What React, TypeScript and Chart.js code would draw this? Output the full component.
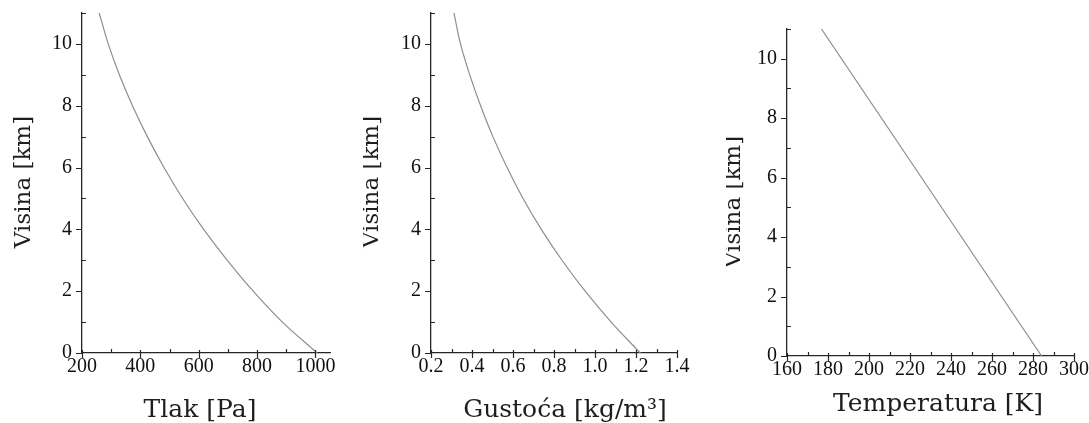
import React, { useEffect, useRef } from "react";
import { Chart, registerables } from "chart.js";

Chart.register(...registerables);

// ---- data ----
const heightsKm = [0, 1, 2, 3, 4, 5, 6, 7, 8, 9, 10, 11];
const pressurePa = [1006, 887, 787, 698, 617, 545, 481, 424, 373, 328, 290, 259];
const densityKgM3 = [1.221, 1.079, 0.952, 0.839, 0.738, 0.649, 0.571, 0.502, 0.442, 0.389, 0.344, 0.312];
const tempHeightsKm = [0, 11];
const temperatureK = [284.2, 176.8];

// ---- tick labels ----
const heightTicks = [0, 2, 4, 6, 8, 10];
const heightMinorTicks = [1, 3, 5, 7, 9, 11];
const pressureTicks = [200, 400, 600, 800, 1000];
const pressureMinorTicks = [300, 500, 700, 900];
const densityTicks = [0.2, 0.4, 0.6, 0.8, 1.0, 1.2, 1.4];
const densityMinorTicks = [0.3, 0.5, 0.7, 0.9, 1.1, 1.3];
const temperatureTicks = [160, 180, 200, 220, 240, 260, 280, 300];
const temperatureMinorTicks = [170, 190, 210, 230, 250, 270, 290];

const H = 423;
const AXIS_COLOR = "#262626";
const LINE_COLOR = "#8e8e8e";
const X_TITLE_FONT = "25px 'DejaVu Serif'";
const Y_TITLE_FONT = "23px 'DejaVu Serif'";
const TICK_FONT = { family: "'Liberation Serif'", size: 20 };

type Panel = {
  left: number;
  width: number;
  area: { left: number; right: number; top: number; bottom: number };
  xMin: number;
  xMax: number;
  xTicks: number[];
  xMinor: number[];
  decimals: number;
  xValues: number[];
  yValues: number[];
  xTitle: string;
  xTitlePos: [number, number];
  yTitle: string;
  yTitlePos: [number, number];
};

const panels: Panel[] = [
  {
    left: 0,
    width: 363,
    area: { left: 82, right: 330, top: 13, bottom: 353 },
    xMin: 200,
    xMax: 1050,
    xTicks: pressureTicks,
    xMinor: pressureMinorTicks,
    decimals: 0,
    xValues: pressurePa,
    yValues: heightsKm,
    xTitle: "Tlak [Pa]",
    xTitlePos: [200, 410],
    yTitle: "Visina [km]",
    yTitlePos: [24, 182],
  },
  {
    left: 363,
    width: 363,
    area: { left: 68, right: 314, top: 13, bottom: 353 },
    xMin: 0.2,
    xMax: 1.4,
    xTicks: densityTicks,
    xMinor: densityMinorTicks,
    decimals: 1,
    xValues: densityKgM3,
    yValues: heightsKm,
    xTitle: "Gustoća [kg/m³]",
    xTitlePos: [202, 410],
    yTitle: "Visina [km]",
    yTitlePos: [9, 182],
  },
  {
    left: 726,
    width: 380,
    area: { left: 61, right: 348, top: 29, bottom: 356 },
    xMin: 160,
    xMax: 300,
    xTicks: temperatureTicks,
    xMinor: temperatureMinorTicks,
    decimals: 0,
    xValues: temperatureK,
    yValues: tempHeightsKm,
    xTitle: "Temperatura [K]",
    xTitlePos: [212, 404],
    yTitle: "Visina [km]",
    yTitlePos: [8, 202],
  },
];

const decorPlugin = {
  id: "panelDecor",
  afterDraw(chart: any, _args: any, opts: any) {
    const ctx = chart.ctx as CanvasRenderingContext2D;
    const xs = chart.scales.x;
    const ys = chart.scales.y;
    const a = chart.chartArea;
    ctx.save();
    ctx.strokeStyle = AXIS_COLOR;
    ctx.lineWidth = 1.2;
    ctx.beginPath();
    for (const v of opts.xTicks) {
      const px = Math.round(xs.getPixelForValue(v)) + 0.5;
      ctx.moveTo(px, a.bottom - 3);
      ctx.lineTo(px, a.bottom + 5);
    }
    for (const v of opts.xMinor) {
      const px = Math.round(xs.getPixelForValue(v)) + 0.5;
      ctx.moveTo(px, a.bottom - 4);
      ctx.lineTo(px, a.bottom);
    }
    for (const v of heightTicks) {
      const py = Math.round(ys.getPixelForValue(v)) + 0.5;
      ctx.moveTo(a.left - 6, py);
      ctx.lineTo(a.left, py);
    }
    for (const v of heightMinorTicks) {
      const py = Math.round(ys.getPixelForValue(v)) + 0.5;
      ctx.moveTo(a.left, py);
      ctx.lineTo(a.left + 4, py);
    }
    ctx.stroke();

    ctx.fillStyle = "#1e1e1e";
    ctx.textAlign = "center";
    ctx.textBaseline = "middle";
    ctx.font = X_TITLE_FONT;
    ctx.fillText(opts.xTitle, opts.xTitlePos[0], opts.xTitlePos[1]);
    ctx.font = Y_TITLE_FONT;
    ctx.translate(opts.yTitlePos[0], opts.yTitlePos[1]);
    ctx.rotate(-Math.PI / 2);
    ctx.fillText(opts.yTitle, 0, 0);
    ctx.restore();
  },
};

function PanelChart({ p }: { p: Panel }) {
  const ref = useRef<HTMLCanvasElement | null>(null);
  useEffect(() => {
    if (!ref.current) return;
    const data = p.yValues.map((h, i) => ({ x: p.xValues[i], y: h }));
    const chart = new Chart(ref.current, {
      type: "line",
      data: {
        datasets: [
          {
            data,
            borderColor: LINE_COLOR,
            borderWidth: 1.2,
            pointRadius: 0,
            tension: 0.4,
            fill: false,
          },
        ],
      },
      plugins: [decorPlugin],
      options: {
        animation: false,
        responsive: false,
        maintainAspectRatio: false,
        events: [],
        layout: {
          padding: { top: p.area.top, right: p.width - p.area.right, bottom: 0, left: 0 },
        },
        plugins: {
          legend: { display: false },
          tooltip: { enabled: false },
          panelDecor: {
            xTicks: p.xTicks,
            xMinor: p.xMinor,
            xTitle: p.xTitle,
            xTitlePos: p.xTitlePos,
            yTitle: p.yTitle,
            yTitlePos: p.yTitlePos,
          },
        } as any,
        scales: {
          x: {
            type: "linear",
            min: p.xMin,
            max: p.xMax,
            afterBuildTicks: (s: any) => {
              s.ticks = p.xTicks.map((v) => ({ value: v }));
            },
            afterFit: (s: any) => {
              s.height = H - p.area.bottom;
              s.paddingLeft = 0;
              s.paddingRight = 0;
            },
            grid: { display: false, drawTicks: false },
            border: { display: true, color: AXIS_COLOR, width: 1.3 },
            ticks: {
              autoSkip: false,
              maxRotation: 0,
              padding: 2,
              color: "#111",
              font: TICK_FONT,
              callback: (v: any) => Number(v).toFixed(p.decimals),
            },
          },
          y: {
            type: "linear",
            min: 0,
            max: 11,
            afterBuildTicks: (s: any) => {
              s.ticks = heightTicks.map((v) => ({ value: v }));
            },
            afterFit: (s: any) => {
              s.width = p.area.left;
              s.paddingTop = 0;
              s.paddingBottom = 0;
            },
            grid: { display: false, drawTicks: false },
            border: { display: true, color: AXIS_COLOR, width: 1.3 },
            ticks: {
              autoSkip: false,
              padding: 10,
              color: "#111",
              font: TICK_FONT,
              callback: (v: any) => String(v),
            },
          },
        },
      } as any,
    });
    return () => chart.destroy();
  }, [p]);
  return (
    <canvas
      ref={ref}
      width={p.width}
      height={H}
      style={{ position: "absolute", left: p.left, top: 0, display: "block" }}
    />
  );
}

export default function App() {
  return (
    <div
      style={{
        position: "absolute",
        left: 0,
        top: 0,
        width: 1089,
        height: H,
        overflow: "hidden",
        background: "#fff",
      }}
    >
      {panels.map((p, i) => (
        <PanelChart key={i} p={p} />
      ))}
    </div>
  );
}
